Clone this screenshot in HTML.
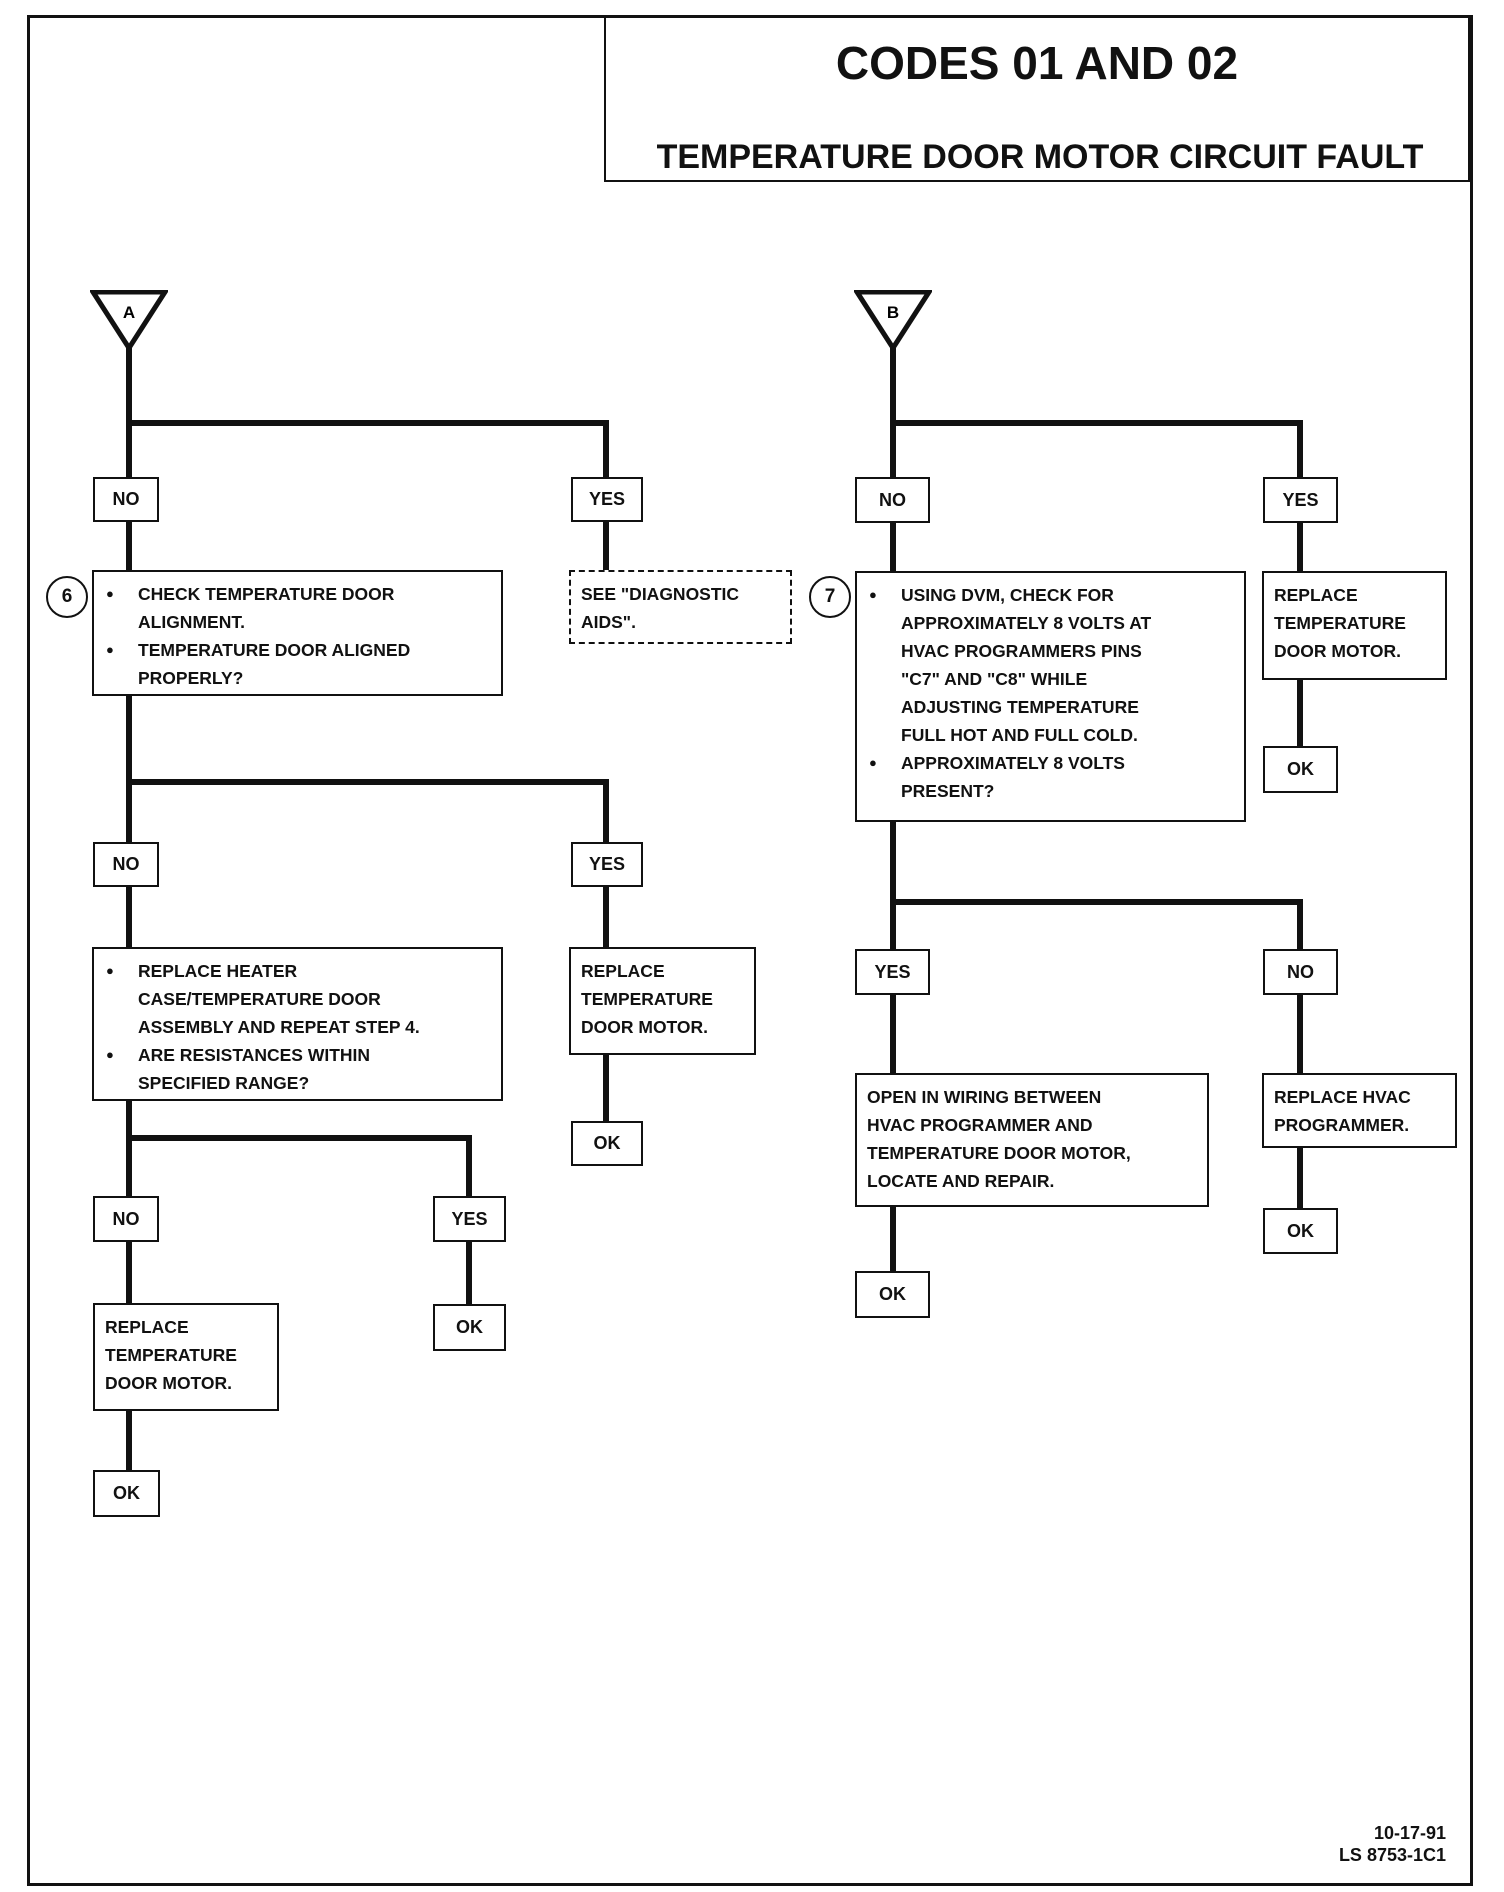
<!DOCTYPE html>
<html><head><meta charset="utf-8"><style>
body{margin:0;width:1504px;height:1892px;background:#fff;position:relative;overflow:hidden;font-family:"Liberation Sans Narrow","Liberation Sans",sans-serif;font-weight:bold;color:#111}
.a{position:absolute;box-sizing:border-box}
.b{position:absolute;box-sizing:border-box;border:2px solid #111;background:#fff;font-size:17.5px;line-height:28px;padding:8px 10px;white-space:nowrap}
.l{position:absolute;box-sizing:border-box;text-align:center;border:2px solid #111;background:#fff;font-size:18px;display:flex;align-items:center;justify-content:center}
.v{position:absolute;background:#111;width:6px}
.h{position:absolute;background:#111;height:6px}
ul{margin:0;padding:0 0 0 34px;list-style:none}
li{position:relative}
li:before{content:"●";position:absolute;left:-32px;font-size:13px}
.c{position:absolute;border:2px solid #111;border-radius:50%;width:42px;height:42px;box-sizing:border-box;display:flex;align-items:center;justify-content:center;font-size:19px;background:#fff}
</style></head><body>
<div class="a" style="left:27px;top:15px;width:1446px;height:1871px;border:3px solid #111"></div>
<div class="a" style="left:604px;top:15px;width:866px;height:167px;border:2px solid #111"></div>
<div class="a" style="left:604px;top:36px;width:866px;text-align:center;font-size:46px">CODES 01 AND 02</div>
<div class="a" style="left:610px;top:138px;width:860px;text-align:center;font-size:34px">TEMPERATURE DOOR MOTOR CIRCUIT FAULT</div>

<div class="v" style="left:126px;top:340px;height:1150px"></div>
<div class="h" style="left:126px;top:420px;width:483px"></div>
<div class="v" style="left:603px;top:420px;height:160px"></div>
<div class="h" style="left:126px;top:779px;width:483px"></div>
<div class="v" style="left:603px;top:779px;height:370px"></div>
<div class="h" style="left:126px;top:1135px;width:346px"></div>
<div class="v" style="left:466px;top:1135px;height:200px"></div>
<svg class="a" style="left:90px;top:290px" width="78" height="62"><polygon points="3,2 75,2 39,58" fill="#fff" stroke="#111" stroke-width="5"/><text x="39" y="28" font-size="17" text-anchor="middle" font-family="Liberation Sans" font-weight="bold">A</text></svg>

<div class="v" style="left:890px;top:340px;height:960px"></div>
<div class="h" style="left:890px;top:420px;width:413px"></div>
<div class="v" style="left:1297px;top:420px;height:360px"></div>
<div class="h" style="left:890px;top:899px;width:413px"></div>
<div class="v" style="left:1297px;top:899px;height:340px"></div>
<svg class="a" style="left:854px;top:290px" width="78" height="62"><polygon points="3,2 75,2 39,58" fill="#fff" stroke="#111" stroke-width="5"/><text x="39" y="28" font-size="17" text-anchor="middle" font-family="Liberation Sans" font-weight="bold">B</text></svg>

<div class="l" style="left:93px;top:477px;width:66px;height:45px">NO</div>
<div class="l" style="left:571px;top:477px;width:72px;height:45px">YES</div>
<div class="c" style="left:46px;top:576px">6</div>
<div class="b" style="left:92px;top:570px;width:411px;height:126px"><ul><li>CHECK TEMPERATURE DOOR<br>ALIGNMENT.</li><li>TEMPERATURE DOOR ALIGNED<br>PROPERLY?</li></ul></div>
<div class="b" style="left:569px;top:570px;width:223px;height:74px;border:2px dashed #111">SEE "DIAGNOSTIC<br>AIDS".</div>
<div class="l" style="left:93px;top:842px;width:66px;height:45px">NO</div>
<div class="l" style="left:571px;top:842px;width:72px;height:45px">YES</div>
<div class="b" style="left:92px;top:947px;width:411px;height:154px"><ul><li>REPLACE HEATER<br>CASE/TEMPERATURE DOOR<br>ASSEMBLY AND REPEAT STEP 4.</li><li>ARE RESISTANCES WITHIN<br>SPECIFIED RANGE?</li></ul></div>
<div class="b" style="left:569px;top:947px;width:187px;height:108px">REPLACE<br>TEMPERATURE<br>DOOR MOTOR.</div>
<div class="l" style="left:571px;top:1121px;width:72px;height:45px">OK</div>
<div class="l" style="left:93px;top:1196px;width:66px;height:46px">NO</div>
<div class="l" style="left:433px;top:1196px;width:73px;height:46px">YES</div>
<div class="b" style="left:93px;top:1303px;width:186px;height:108px">REPLACE<br>TEMPERATURE<br>DOOR MOTOR.</div>
<div class="l" style="left:433px;top:1304px;width:73px;height:47px">OK</div>
<div class="l" style="left:93px;top:1470px;width:67px;height:47px">OK</div>

<div class="l" style="left:855px;top:477px;width:75px;height:46px">NO</div>
<div class="l" style="left:1263px;top:477px;width:75px;height:46px">YES</div>
<div class="c" style="left:809px;top:576px">7</div>
<div class="b" style="left:855px;top:571px;width:391px;height:251px"><ul><li>USING DVM, CHECK FOR<br>APPROXIMATELY 8 VOLTS AT<br>HVAC PROGRAMMERS PINS<br>"C7" AND "C8" WHILE<br>ADJUSTING TEMPERATURE<br>FULL HOT AND FULL COLD.</li><li>APPROXIMATELY 8 VOLTS<br>PRESENT?</li></ul></div>
<div class="b" style="left:1262px;top:571px;width:185px;height:109px">REPLACE<br>TEMPERATURE<br>DOOR MOTOR.</div>
<div class="l" style="left:1263px;top:746px;width:75px;height:47px">OK</div>
<div class="l" style="left:855px;top:949px;width:75px;height:46px">YES</div>
<div class="l" style="left:1263px;top:949px;width:75px;height:46px">NO</div>
<div class="b" style="left:855px;top:1073px;width:354px;height:134px">OPEN IN WIRING BETWEEN<br>HVAC PROGRAMMER AND<br>TEMPERATURE DOOR MOTOR,<br>LOCATE AND REPAIR.</div>
<div class="b" style="left:1262px;top:1073px;width:195px;height:75px">REPLACE HVAC<br>PROGRAMMER.</div>
<div class="l" style="left:1263px;top:1208px;width:75px;height:46px">OK</div>
<div class="l" style="left:855px;top:1271px;width:75px;height:47px">OK</div>

<div class="a" style="left:1290px;top:1822px;width:156px;text-align:right;font-size:18px;line-height:22px">10-17-91<br>LS 8753-1C1</div>
</body></html>
